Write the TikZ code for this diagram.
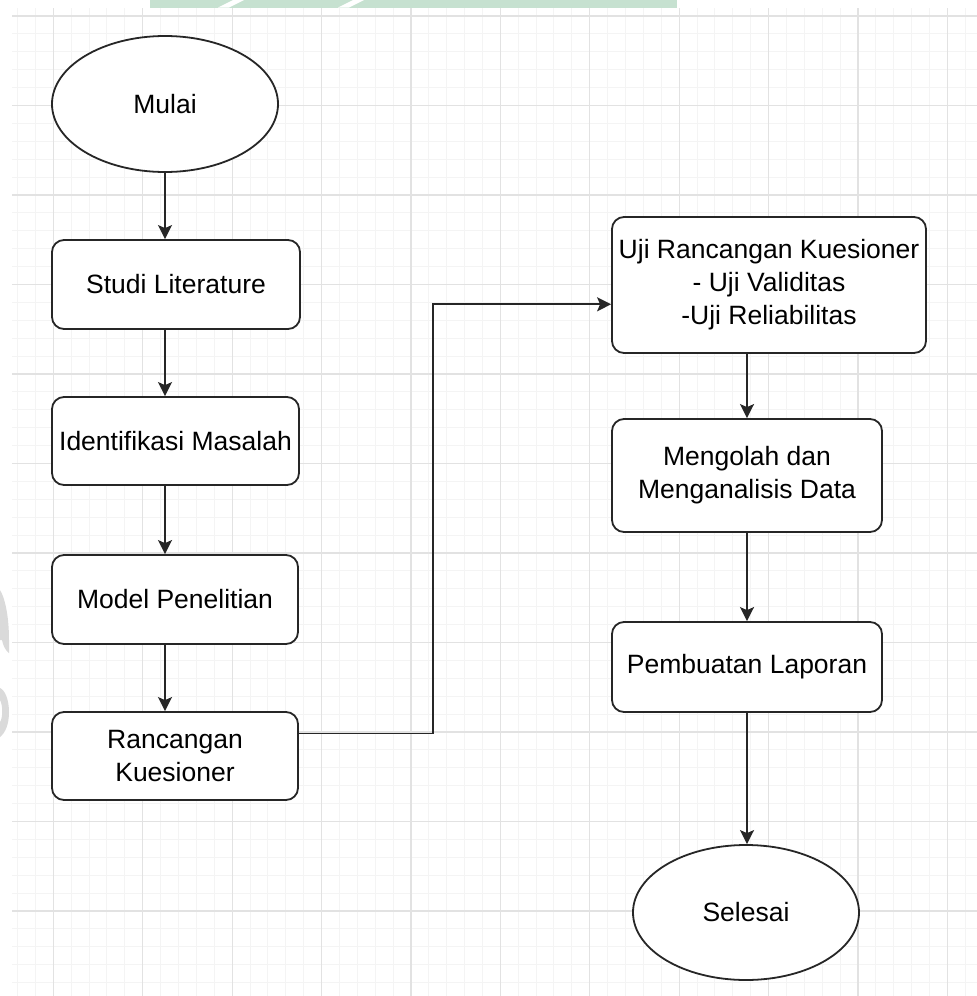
\documentclass[tikz,border=0pt]{standalone}
\usepackage{fontspec}
\setmainfont{Liberation Sans}
\usetikzlibrary{shapes.geometric,arrows.meta,calc}

\definecolor{minorline}{HTML}{F4F4F4}
\definecolor{majorline}{HTML}{E2E2E2}
\definecolor{bandgreen}{HTML}{C6E1D0}
\definecolor{markgray}{HTML}{DADADA}

\tikzset{
  minorgrid/.style={draw=minorline, line width=0.9pt},
  majorgrid/.style={draw=majorline, line width=1.2pt},
  stepbox/.style={draw=black!85, line width=1.8pt, rounded corners=12pt, fill=white,
    inner sep=0pt, align=center, font=\fontsize{26.5}{33}\selectfont},
  terminal/.style={draw=black!85, ellipse, line width=1.8pt, fill=white,
    inner sep=0pt, minimum width=226pt, minimum height=136pt,
    font=\fontsize{26.5}{33}\selectfont},
  flow/.style={draw=black!85, line width=1.8pt,
    -{Stealth[length=14pt,width=14pt,inset=3pt]}},
}

\begin{document}
\begin{tikzpicture}[x=1pt,y=-1pt]
  \useasboundingbox (0,0) rectangle (977,996);
  \fill[white] (0,0) rectangle (977,996);

  % background grid
  \begin{scope}
    \clip (12,8) rectangle (977,996);
    \foreach \k in {0,...,60} {
      \pgfmathsetmacro\gx{-36.1+17.88*\k}
      \draw[minorgrid] (\gx,0) -- (\gx,996);
      \pgfmathsetmacro\gy{-73.5+17.9*\k}
      \draw[minorgrid] (0,\gy) -- (977,\gy);
    }
    \foreach \k in {0,...,12} {
      \pgfmathsetmacro\gx{-36.1+89.4*\k}
      \draw[majorgrid] (\gx,0) -- (\gx,996);
      \pgfmathsetmacro\gy{16+89.5*\k}
      \draw[majorgrid] (0,\gy) -- (977,\gy);
    }
  \end{scope}

  % green band along the top edge
  \fill[bandgreen] (150,0) rectangle (677,7.5);
  \fill[white] (218,7.5) -- (229,7.5) -- (244,0) -- (233,0) -- cycle;
  \fill[white] (338,7.5) -- (349,7.5) -- (364,0) -- (353,0) -- cycle;

  % faint mark on the left edge
  \fill[markgray] (0,590) .. controls (6,600) and (9,620) .. (9,640)
    -- (9,653) .. controls (5,650) and (3,645) .. (2,640) -- (0,640) -- cycle;
  \fill[markgray] (0,688) .. controls (5,690) and (9,700) .. (9,712)
    .. controls (9,725) and (5,733) .. (0,737) -- (0,722)
    .. controls (3,718) and (3,705) .. (0,700) -- cycle;

  % left column
  \node[terminal] (mulai) at (165,104) {Mulai};
  \node[stepbox, minimum width=248pt, minimum height=89pt] (studi) at (176,284.5) {Studi Literature};
  \node[stepbox, minimum width=247pt, minimum height=88pt] (ident) at (175.5,441) {Identifikasi Masalah};
  \node[stepbox, minimum width=246pt, minimum height=89pt] (model) at (175,599.5) {Model Penelitian};
  \node[stepbox, minimum width=246pt, minimum height=88pt] (ranc) at (175,756) {Rancangan\\Kuesioner};

  % right column
  \node[stepbox, minimum width=314pt, minimum height=136pt] (uji) at (769,285)
    {Uji Rancangan Kuesioner\\- Uji Validitas\\-Uji Reliabilitas};
  \node[stepbox, minimum width=270pt, minimum height=113pt] (olah) at (747,475.5)
    {Mengolah dan\\Menganalisis Data};
  \node[stepbox, minimum width=270pt, minimum height=90pt] (lapor) at (747,667) {Pembuatan Laporan};
  \node[terminal, minimum height=135pt] (selesai) at (746,912.5) {Selesai};

  % connectors
  \draw[flow] (mulai.south) -- (mulai.south |- studi.north);
  \draw[flow] (studi.south -| mulai.south) -- (ident.north -| mulai.south);
  \draw[flow] (ident.south -| mulai.south) -- (model.north -| mulai.south);
  \draw[flow] (model.south -| mulai.south) -- (ranc.north -| mulai.south);

  \coordinate (rk) at ($(ranc.north east)!0.25!(ranc.south east)$);
  \coordinate (uk) at ($(uji.north west)!0.64!(uji.south west)$);
  \coordinate (bx) at (433,0);
  \draw[flow] (rk) -- (rk -| bx) -- (bx |- uk) -- (uk);

  \draw[flow] (uji.south -| olah.north) -- (olah.north);
  \draw[flow] (olah.south) -- (lapor.north);
  \draw[flow] (lapor.south) -- (lapor.south |- selesai.north);
\end{tikzpicture}
\end{document}
